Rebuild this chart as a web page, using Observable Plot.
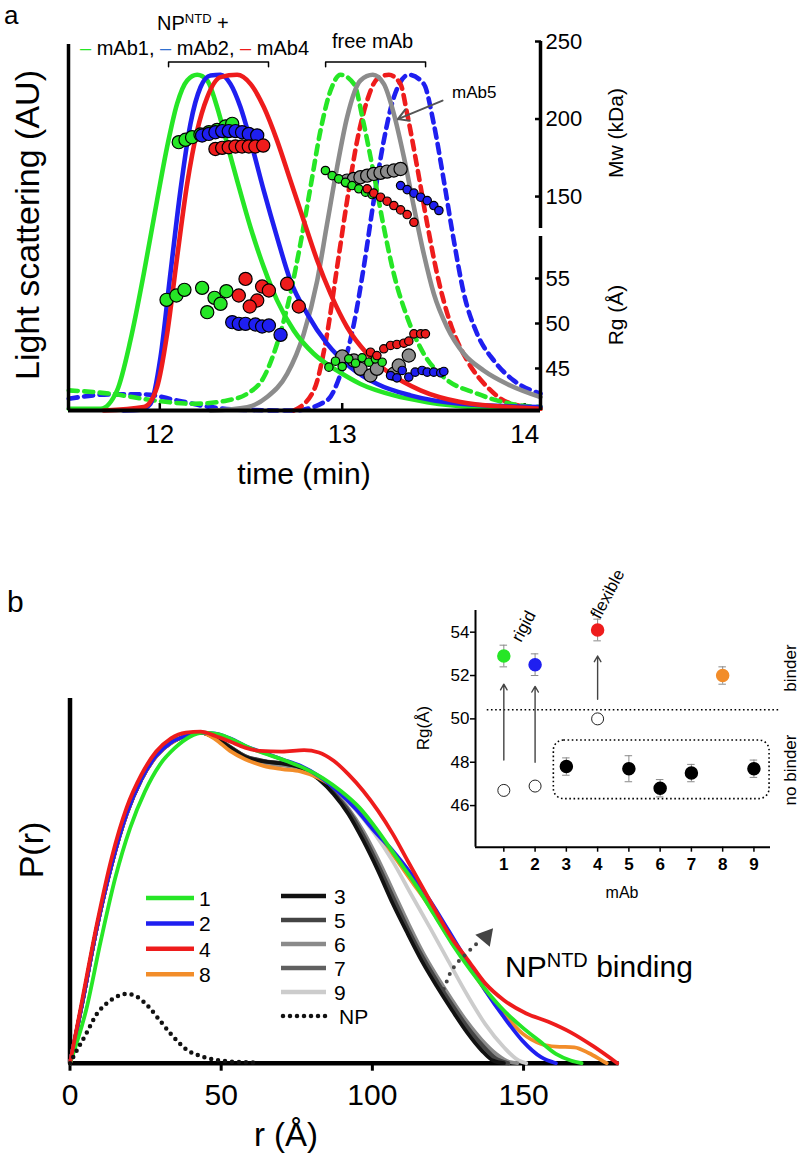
<!DOCTYPE html>
<html><head><meta charset="utf-8">
<script src="https://cdn.jsdelivr.net/npm/d3@7"></script>
<script src="https://cdn.jsdelivr.net/npm/@observablehq/plot@0.6"></script>
<style>
html,body{margin:0;padding:0;background:#fff;}
#page{position:relative;width:800px;height:1159px;overflow:hidden;background:#fff;}
#page svg{position:absolute;left:0;top:0;}
</style></head><body><div id="page"></div>
<script>
// ---------------- Panel a data: light scattering (normalised), [time (min), LS] ----------------
const timeTicks = [12, 13, 14];
const mwTicks = [150, 200, 250];
const rgTicksA = [45, 50, 55];

const lsNP1 = [[11.501,0.005],[11.675,0.005],[11.766,0.060],[11.839,0.209],[11.912,0.407],[11.985,0.626],[12.040,0.785],[12.095,0.914],[12.150,0.983],[12.205,1.0],[12.260,0.983],[12.314,0.904],[12.369,0.794],[12.424,0.685],[12.497,0.546],[12.570,0.427],[12.643,0.328],[12.735,0.238],[12.844,0.169],[12.972,0.119],[13.100,0.079],[13.283,0.045],[13.466,0.025],[13.740,0.010],[14.087,0.005]];
const lsNP2 = [[11.80,0],[11.894,0.002],[11.949,0.020],[12.004,0.159],[12.058,0.407],[12.113,0.655],[12.168,0.854],[12.223,0.963],[12.278,0.998],[12.333,1.0],[12.387,0.973],[12.442,0.904],[12.497,0.804],[12.570,0.655],[12.643,0.516],[12.716,0.387],[12.808,0.288],[12.917,0.199],[13.045,0.129],[13.192,0.079],[13.374,0.045],[13.648,0.020],[14.087,0.010]];
const lsNP4 = [[11.693,0],[11.912,0.010],[11.985,0.070],[12.040,0.228],[12.095,0.457],[12.150,0.675],[12.205,0.834],[12.260,0.933],[12.333,0.993],[12.424,1.0],[12.497,0.973],[12.570,0.904],[12.643,0.804],[12.716,0.685],[12.789,0.566],[12.863,0.447],[12.936,0.348],[13.027,0.248],[13.137,0.169],[13.265,0.109],[13.429,0.060],[13.648,0.025],[13.923,0.010],[14.087,0.005]];
const lsFree1 = [[11.501,0.060],[11.730,0.050],[11.967,0.030],[12.186,0.020],[12.369,0.030],[12.479,0.050],[12.570,0.099],[12.643,0.199],[12.716,0.348],[12.771,0.497],[12.826,0.665],[12.881,0.834],[12.936,0.953],[12.991,1.0],[13.064,0.973],[13.118,0.854],[13.173,0.705],[13.228,0.546],[13.283,0.407],[13.356,0.278],[13.447,0.169],[13.557,0.099],[13.740,0.050],[13.923,0.020],[14.087,0.010]];
const lsFree5 = [[12.278,0],[12.479,0.010],[12.588,0.040],[12.698,0.109],[12.789,0.228],[12.863,0.387],[12.917,0.556],[12.972,0.725],[13.027,0.874],[13.100,0.983],[13.168,1.0],[13.228,0.973],[13.283,0.884],[13.338,0.755],[13.393,0.606],[13.447,0.467],[13.502,0.348],[13.575,0.248],[13.667,0.169],[13.776,0.119],[13.904,0.079],[14.087,0.040]];
const lsFree4 = [[12.735,0],[12.844,0.060],[12.917,0.228],[12.972,0.427],[13.027,0.626],[13.082,0.804],[13.137,0.924],[13.192,0.988],[13.256,1.0],[13.319,0.973],[13.356,0.884],[13.411,0.725],[13.466,0.556],[13.520,0.407],[13.594,0.258],[13.685,0.149],[13.795,0.070],[13.904,0.025],[14.087,0.005]];
const lsFree2 = [[11.501,0.035],[11.730,0.048],[11.912,0.048],[12.095,0.030],[12.278,0.010],[12.461,0.002],[12.735,0],[12.917,0.030],[12.991,0.109],[13.064,0.258],[13.118,0.427],[13.173,0.626],[13.228,0.804],[13.283,0.933],[13.365,1.0],[13.447,0.973],[13.502,0.854],[13.557,0.685],[13.612,0.506],[13.667,0.348],[13.740,0.228],[13.831,0.149],[13.941,0.089],[14.087,0.050]];

// Mw (kDa) points, [time, Mw]
const mwNP1 = [[12.104,185.1],[12.141,186.6],[12.177,188.3],[12.223,190.0],[12.269,191.5],[12.314,193.0],[12.360,195.2],[12.397,196.9]];
const mwNP2 = [[12.232,189.4],[12.269,190.4],[12.305,191.5],[12.342,192.2],[12.378,192.2],[12.415,192.2],[12.451,191.5],[12.488,190.4],[12.534,189.4]];
const mwNP4 = [[12.305,180.7],[12.342,181.4],[12.378,181.8],[12.415,182.3],[12.451,182.3],[12.488,182.3],[12.524,182.3],[12.567,182.9]];
const mwFree1 = [[12.908,166.8],[12.945,163.5],[12.981,161.4],[13.018,159.2],[13.054,157.1],[13.091,155.0],[13.128,152.8],[13.164,151.3]];
const mwFree5 = [[13.027,160.3],[13.064,161.4],[13.100,162.5],[13.137,163.5],[13.173,164.6],[13.210,165.3],[13.246,166.1],[13.283,166.8],[13.320,167.8]];
const mwFree4 = [[13.137,155.0],[13.173,152.2],[13.210,149.6],[13.246,147.0],[13.283,144.2],[13.320,141.4],[13.356,138.4],[13.393,133.4]];
const mwFree2 = [[13.320,157.1],[13.356,154.5],[13.393,152.2],[13.430,149.6],[13.466,147.4],[13.502,144.2],[13.530,141.0]];

// Rg (Å) points, [time, Rg]
const rgNP1 = [[12.037,52.63],[12.091,53.11],[12.135,53.74],[12.232,53.96],[12.300,52.85],[12.365,53.59],[12.333,52.19],[12.260,51.26]];
const rgNP4 = [[12.470,54.96],[12.433,53.11],[12.534,52.56],[12.561,54.11],[12.598,53.67],[12.493,51.89],[12.698,54.41],[12.762,51.89]];
const rgNP2 = [[12.397,50.15],[12.433,49.96],[12.470,49.96],[12.524,49.89],[12.561,49.67],[12.598,49.78],[12.662,48.74]];
const rgFree1 = [[12.927,45.15],[12.963,45.81],[13.000,45.22],[13.036,46.07],[13.073,45.59],[13.109,46.19],[13.146,45.70],[13.182,46.07],[13.219,45.70]];
const rgFree5 = [[13.000,46.33],[13.064,45.89],[13.100,44.96],[13.155,44.22],[13.190,44.96],[13.283,44.41],[13.310,45.33],[13.365,46.44]];
const rgFree4 = [[13.155,46.81],[13.190,46.44],[13.228,47.19],[13.265,47.56],[13.300,47.67],[13.338,47.81],[13.365,48.04],[13.393,48.85],[13.430,48.85],[13.456,48.85]];
const rgFree2 = [[13.265,44.22],[13.300,43.96],[13.329,44.78],[13.365,44.04],[13.400,44.59],[13.438,44.78],[13.466,44.59],[13.502,44.59],[13.540,44.52],[13.557,44.67]];

// annotation geometry (data units)
const bracketNP = [[12.048,1.024],[12.048,1.038],[12.596,1.038],[12.596,1.024]];
const bracketFree = [[12.909,1.024],[12.909,1.038],[13.457,1.038],[13.457,1.024]];
const mAb5Arrow = [{x1:13.55, y1:0.923, x2:13.305, y2:0.868}];

// ---------------- Panel b data: P(r), [r (Å), P(r) normalised] ----------------
const rTicks = [0, 50, 100, 150];
const pr1 = [[0,0],[5.3,0.159],[10.2,0.37],[15.0,0.56],[19.9,0.71],[24.8,0.82],[29.7,0.90],[34.6,0.95],[39.5,0.984],[44.4,0.997],[49.3,0.992],[54.2,0.974],[59.1,0.952],[65.2,0.932],[71.3,0.912],[77.4,0.89],[83.6,0.86],[89.7,0.82],[95.8,0.77],[101.9,0.70],[108.0,0.62],[114.2,0.54],[120.3,0.45],[126.4,0.36],[132.5,0.28],[138.6,0.209],[143.5,0.159],[149.6,0.108],[155.8,0.063],[160.7,0.028],[165.6,0.008],[169.2,0]];
const pr2 = [[0,0],[4.0,0.179],[8.9,0.41],[13.8,0.60],[18.7,0.751],[23.6,0.856],[28.5,0.927],[33.4,0.967],[38.3,0.987],[43.2,0.997],[48.1,0.994],[52.9,0.98],[57.9,0.957],[64.0,0.937],[70.1,0.917],[76.2,0.897],[82.3,0.866],[88.5,0.821],[94.6,0.766],[100.7,0.70],[106.8,0.64],[112.9,0.57],[119.1,0.49],[125.2,0.40],[131.3,0.309],[137.4,0.219],[143.5,0.139],[149.6,0.068],[155.8,0.018],[160.7,0]];
const pr4 = [[0,0],[4.0,0.189],[8.9,0.42],[13.8,0.62],[18.7,0.77],[23.6,0.87],[28.5,0.94],[33.4,0.98],[38.3,0.997],[43.2,1.0],[48.1,0.987],[52.9,0.97],[57.9,0.952],[62.8,0.942],[70.1,0.94],[77.4,0.944],[82.3,0.937],[87.2,0.912],[92.1,0.871],[97.0,0.821],[101.9,0.761],[106.8,0.691],[111.7,0.61],[116.6,0.53],[121.5,0.45],[126.4,0.375],[131.3,0.315],[137.4,0.24],[143.5,0.19],[150.9,0.15],[158.2,0.125],[165.6,0.093],[172.9,0.052],[181.0,0]];
const pr8 = [[0,0],[4.0,0.18],[8.9,0.41],[13.8,0.60],[18.7,0.75],[23.6,0.855],[28.5,0.925],[33.4,0.965],[38.3,0.987],[43.2,0.997],[48.1,0.977],[52.9,0.942],[57.9,0.917],[64.0,0.897],[70.1,0.887],[76.2,0.88],[82.3,0.86],[88.5,0.826],[94.6,0.775],[100.7,0.71],[106.8,0.63],[112.9,0.55],[119.1,0.47],[125.2,0.38],[131.3,0.30],[137.4,0.219],[143.5,0.149],[149.6,0.09],[155.8,0.058],[160.7,0.05],[166.8,0.048],[171.7,0.03],[176.5,0.005],[177.5,0]];
const pr3 = [[0,0],[4.0,0.179],[8.9,0.41],[13.8,0.60],[18.7,0.751],[23.6,0.856],[28.5,0.927],[33.4,0.967],[38.3,0.987],[43.2,0.997],[48.1,0.980],[53.0,0.952],[57.9,0.924],[64.0,0.910],[70.1,0.904],[76.2,0.892],[82.3,0.856],[87.2,0.811],[92.1,0.751],[97.0,0.671],[101.9,0.580],[106.8,0.480],[111.7,0.390],[116.6,0.304],[121.5,0.229],[126.4,0.159],[131.3,0.093],[136.2,0.038],[139.9,0.008],[143.5,0]];
const pr5 = [[0,0],[4.0,0.179],[8.9,0.41],[13.8,0.60],[18.7,0.751],[23.6,0.856],[28.5,0.927],[33.4,0.967],[38.3,0.987],[43.2,0.997],[48.1,0.982],[53.0,0.954],[57.9,0.927],[64.0,0.912],[70.1,0.905],[76.2,0.893],[82.3,0.860],[87.2,0.816],[92.1,0.762],[97.0,0.688],[101.9,0.598],[106.8,0.502],[111.7,0.407],[116.6,0.321],[121.5,0.246],[126.4,0.176],[131.3,0.111],[136.2,0.056],[141.1,0.013],[144.8,0]];
const pr6 = [[0,0],[4.0,0.178],[8.9,0.41],[13.8,0.60],[18.7,0.75],[23.6,0.855],[28.5,0.926],[33.4,0.966],[38.3,0.987],[43.2,0.997],[48.1,0.981],[53.0,0.950],[57.9,0.922],[64.0,0.905],[70.1,0.898],[76.2,0.890],[82.3,0.862],[87.2,0.820],[92.1,0.768],[97.0,0.700],[101.9,0.615],[106.8,0.520],[111.7,0.425],[116.6,0.336],[121.5,0.260],[126.4,0.190],[131.3,0.125],[136.2,0.070],[141.1,0.027],[145.5,0.003],[148.0,0]];
const pr7 = [[0,0],[4.0,0.179],[8.9,0.41],[13.8,0.60],[18.7,0.751],[23.6,0.856],[28.5,0.927],[33.4,0.967],[38.3,0.987],[43.2,0.997],[48.1,0.981],[53.0,0.953],[57.9,0.926],[64.0,0.911],[70.1,0.904],[76.2,0.892],[82.3,0.858],[87.2,0.814],[92.1,0.758],[97.0,0.680],[101.9,0.590],[106.8,0.495],[111.7,0.400],[116.6,0.316],[121.5,0.240],[126.4,0.170],[131.3,0.106],[136.2,0.050],[141.1,0.012],[145.0,0]];
const pr9 = [[0,0],[4.0,0.178],[8.9,0.41],[13.8,0.60],[18.7,0.75],[23.6,0.855],[28.5,0.926],[33.4,0.966],[38.3,0.987],[43.2,0.997],[48.1,0.982],[53.0,0.953],[57.9,0.925],[64.0,0.908],[70.1,0.900],[76.2,0.890],[82.3,0.860],[88.5,0.818],[94.6,0.763],[100.7,0.693],[106.8,0.608],[112.9,0.508],[119.1,0.408],[125.2,0.307],[131.3,0.207],[137.4,0.117],[143.5,0.048],[148.4,0.008],[150.9,0]];
const prNP = [[0,0],[1.6,0.028],[5.3,0.088],[8.9,0.149],[12.6,0.184],[16.3,0.204],[18.7,0.209],[22.4,0.199],[26.1,0.169],[29.7,0.129],[33.4,0.088],[38.3,0.043],[44.4,0.018],[51.8,0.006],[61.5,0.002]];
const bindingArrow = [[123.6,0.224],[126.0,0.278],[128.4,0.306],[131.0,0.33],[134.7,0.362]];
const bindingHead = [[137.6,0.382]];

// ---------------- Inset data ----------------
const mAbs     = [1, 2, 3, 4, 5, 6, 7, 8, 9];
const rgBound  = [52.9, 52.5, 47.8, 54.1, 47.7, 46.8, 47.5, 52.0, 47.7];
const rgErr    = [0.5, 0.5, 0.4, 0.5, 0.6, 0.4, 0.4, 0.4, 0.4];
const openMabs = [1, 2, 4];
const rgOpen   = [46.7, 46.9, 50.0];
const arrowMabs = [1, 2, 4];
const arrowFrom = [48.1, 48.0, 50.9];
const arrowTo   = [51.6, 51.5, 52.9];
const binderThreshold = 50.42;
const insetYTicks = [46, 48, 50, 52, 54];
const noBinderBox = {x1: 2.6, x2: 9.5, y1: 46.3, y2: 49.0};

// ---------------- Styling ----------------
const FONT = "'Liberation Sans', Arial, Helvetica, sans-serif";
const C = {green: "#26e626", blue: "#1f1ff0", red: "#ee1c1c", gray: "#8c8c8c", orange: "#f28d2a"};
const G = {c3: "#111111", c5: "#444444", c6: "#8a8a8a", c7: "#606060", c9: "#cccccc"};
const mabColor = {1: C.green, 2: C.blue, 4: C.red, 8: C.orange};
const st = (fs) => ({background: "transparent", fontFamily: FONT, fontSize: fs + "px", color: "#000", overflow: "visible"});
const page = document.getElementById("page");
const W = 800, H = 1159;

const tDomain = [11.4995, 14.087];
const X = d => d[0], Y = d => d[1];
const ls = (data, color, dashed) => Plot.line(data, {x: X, y: Y, stroke: color, strokeWidth: 4.6, strokeDasharray: dashed ? "9,6.5" : "none", curve: "monotone-x"});
const dots = (data, color, r) => Plot.dot(data, {x: X, y: Y, r, fill: color, stroke: "#000", strokeWidth: 1.2});

// Panel a: light scattering
const plotLS = Plot.plot({
  width: W, height: H, marginLeft: 68, marginRight: 260, marginTop: 44, marginBottom: 749,
  x: {domain: tDomain}, y: {domain: [0, 1.0903], axis: null},
  style: st(26),
  marks: [
    Plot.axisX({ticks: timeTicks, tickSize: -7, tickPadding: 21, tickFormat: d => String(d), label: null, strokeWidth: 2.5, fontSize: 26}),
    ls(lsFree2, C.blue, true), ls(lsFree4, C.red, true), ls(lsFree1, C.green, true), ls(lsFree5, C.gray, false),
    ls(lsNP1, C.green, false), ls(lsNP2, C.blue, false), ls(lsNP4, C.red, false),
    Plot.ruleY([0], {strokeWidth: 4}),
    Plot.ruleX([tDomain[0]], {strokeWidth: 3.5}),
    Plot.line(bracketNP, {x: X, y: Y, stroke: "#000", strokeWidth: 1.5}),
    Plot.line(bracketFree, {x: X, y: Y, stroke: "#000", strokeWidth: 1.5}),
    Plot.arrow(mAb5Arrow, {x1: "x1", y1: "y1", x2: "x2", y2: "y2", stroke: "#555", strokeWidth: 2, headLength: 9})
  ]
});
const plotMw = Plot.plot({
  width: W, height: H, marginLeft: 68, marginRight: 260, marginTop: 41, marginBottom: 931,
  x: {domain: tDomain, axis: null}, y: {domain: [129.4, 250]},
  style: st(22),
  marks: [
    Plot.ruleX([tDomain[1]], {strokeWidth: 3.5}),
    Plot.axisY({anchor: "right", ticks: mwTicks, tickSize: -6, tickPadding: 11, tickFormat: d => String(d), label: null, strokeWidth: 2.5, fontSize: 22}),
    dots(mwNP1, C.green, 6.6), dots(mwNP2, C.blue, 6.6), dots(mwNP4, C.red, 6.6),
    dots(mwFree5, C.gray, 6.6), dots(mwFree1, C.green, 4.2), dots(mwFree4, C.red, 4.2), dots(mwFree2, C.blue, 4.2)
  ]
});
const plotRg = Plot.plot({
  width: W, height: H, marginLeft: 68, marginRight: 260, marginTop: 236, marginBottom: 749,
  x: {domain: tDomain, axis: null}, y: {domain: [40.33, 59.67]},
  style: st(22),
  marks: [
    Plot.ruleX([tDomain[1]], {strokeWidth: 3.5}),
    Plot.axisY({anchor: "right", ticks: rgTicksA, tickSize: -6, tickPadding: 11, tickFormat: d => String(d), label: null, strokeWidth: 2.5, fontSize: 22}),
    dots(rgNP1, C.green, 6.6), dots(rgNP4, C.red, 6.6), dots(rgNP2, C.blue, 6.6),
    dots(rgFree5, C.gray, 6.6), dots(rgFree1, C.green, 4.2), dots(rgFree4, C.red, 4.2), dots(rgFree2, C.blue, 4.2)
  ]
});

// Panel b: P(r)
const pl = (data, color) => Plot.line(data, {x: X, y: Y, stroke: color, strokeWidth: 3.8, curve: "monotone-x"});
const plotPr = Plot.plot({
  width: W, height: H, marginLeft: 69.5, marginRight: 181.4, marginTop: 698, marginBottom: 96.3,
  x: {domain: [0, 181.6]}, y: {domain: [0, 1.1], axis: null},
  style: st(30),
  marks: [
    Plot.ruleY([0], {strokeWidth: 4.5}),
    Plot.ruleX([0], {strokeWidth: 4.5}),
    Plot.axisX({ticks: rTicks, tickSize: 8, tickPadding: 12, tickFormat: d => String(d), label: null, strokeWidth: 3, fontSize: 30}),
    pl(pr9, G.c9), pl(pr6, G.c6), pl(pr7, G.c7), pl(pr5, G.c5), pl(pr3, G.c3),
    pl(pr8, C.orange), pl(pr2, C.blue), pl(pr1, C.green), pl(pr4, C.red),
    Plot.line(prNP, {x: X, y: Y, stroke: "#111", strokeWidth: 4.5, strokeDasharray: "0,7", strokeLinecap: "round", curve: "monotone-x"}),
    Plot.line(bindingArrow, {x: X, y: Y, stroke: "#444", strokeWidth: 4, strokeDasharray: "0,8", strokeLinecap: "round"}),
    Plot.dot(bindingHead, {x: X, y: Y, symbol: "triangle", r: 7, fill: "#444", rotate: 40})
  ]
});

// Inset
const boundData = mAbs.map((m, i) => ({mab: m, rg: rgBound[i], err: rgErr[i], color: mabColor[m] || "#000"}));
const openData = openMabs.map((m, i) => ({mab: m, rg: rgOpen[i]}));
const arrowData = arrowMabs.map((m, i) => ({mab: m, from: arrowFrom[i], to: arrowTo[i]}));
const plotInset = Plot.plot({
  width: W, height: H, marginLeft: 475, marginRight: 30, marginTop: 610, marginBottom: 312.3,
  x: {domain: [0.094, 9.53]}, y: {domain: [44.08, 55.0]}, color: {type: "identity"},
  style: st(17),
  marks: [
    Plot.ruleY([{y: binderThreshold, a: 0.47, b: 9.85}], {y: "y", x1: "a", x2: "b", strokeWidth: 1.6, strokeDasharray: "1.6,2.6"}),
    Plot.rect([noBinderBox], {x1: "x1", x2: "x2", y1: "y1", y2: "y2", rx: 10, fill: "none", stroke: "#000", strokeWidth: 1.6, strokeDasharray: "1.6,2.6"}),
    Plot.arrow(arrowData, {x1: "mab", x2: "mab", y1: "from", y2: "to", stroke: "#444", strokeWidth: 1.4, headLength: 7}),
    Plot.ruleX(boundData, {x: "mab", y1: d => d.rg - d.err, y2: d => d.rg + d.err, stroke: "#8a8a8a", strokeWidth: 1}),
    Plot.ruleY(boundData, {y: d => d.rg + d.err, x1: d => d.mab - 0.12, x2: d => d.mab + 0.12, stroke: "#8a8a8a", strokeWidth: 1}),
    Plot.ruleY(boundData, {y: d => d.rg - d.err, x1: d => d.mab - 0.12, x2: d => d.mab + 0.12, stroke: "#8a8a8a", strokeWidth: 1}),
    Plot.dot(openData, {x: "mab", y: "rg", r: 6, fill: "white", stroke: "#222", strokeWidth: 1}),
    Plot.dot(boundData, {x: "mab", y: "rg", r: 6, fill: "color", stroke: "color"}),
    Plot.ruleX([0.094], {strokeWidth: 2}),
    Plot.ruleY([44.08], {strokeWidth: 2}),
    Plot.axisX({ticks: mAbs, tickSize: 5, tickPadding: 6, tickFormat: d => String(d), label: null, fontWeight: "bold", fontSize: 17, strokeWidth: 1.5}),
    Plot.axisY({ticks: insetYTicks, tickSize: 5, tickPadding: 1, tickFormat: d => String(d), label: null, fontSize: 17, strokeWidth: 1.5})
  ]
});

[plotLS, plotMw, plotRg, plotPr, plotInset].forEach(p => page.appendChild(p));

// ---------------- Text annotations and legend ----------------
const ann = d3.create("svg").attr("width", W).attr("height", H).attr("font-family", FONT);
function T(x, y, s, size, o = {}) {
  const t = ann.append("text").attr("font-size", size).attr("text-anchor", o.anchor || "start").attr("fill", o.fill || "#000");
  if (o.rot != null) t.attr("transform", `translate(${x},${y}) rotate(${o.rot})`); else t.attr("x", x).attr("y", y);
  if (o.weight) t.attr("font-weight", o.weight);
  if (typeof s === "string") t.text(s);
  else s.forEach(p => { const ts = t.append("tspan").text(p.t); if (p.size) ts.attr("font-size", p.size); if (p.dy) ts.attr("dy", p.dy); if (p.fill) ts.attr("fill", p.fill); });
  return t;
}
// panel a
T(4, 24, "a", 26);
T(157, 30, [{t: "NP"}, {t: "NTD", size: 13, dy: -7}, {t: " +", dy: 7}], 20);
T(80, 55, [{t: "–", fill: C.green}, {t: " mAb1, "}, {t: "–", fill: "#3070d0"}, {t: " mAb2, "}, {t: "–", fill: C.red}, {t: " mAb4"}], 20);
T(332, 48, "free mAb", 20);
T(452, 98, "mAb5", 17);
T(39, 225, "Light scattering (AU)", 34, {rot: -90, anchor: "middle"});
T(304, 484, "time (min)", 30, {anchor: "middle"});
T(623, 133, "Mw (kDa)", 21, {rot: -90, anchor: "middle"});
T(623, 315, "Rg (Å)", 21, {rot: -90, anchor: "middle"});
// panel b
T(7, 612, "b", 30);
T(43, 850, "P(r)", 34, {rot: -90, anchor: "middle"});
T(286, 1146, "r (Å)", 33, {anchor: "middle"});
T(505, 977, [{t: "NP"}, {t: "NTD", size: 20, dy: -10}, {t: " binding", dy: 10}], 30);
// inset texts
T(429, 728, "Rg(Å)", 17, {rot: -90, anchor: "middle"});
T(622, 898, "mAb", 16, {anchor: "middle"});
T(521, 643, "rigid", 17, {rot: -62});
T(600, 620, "flexible", 17, {rot: -62});
T(796, 668, "binder", 17, {rot: -90, anchor: "middle"});
T(796, 770, "no binder", 17, {rot: -90, anchor: "middle"});
// legend (panel b)
const leg1 = [["1", C.green], ["2", C.blue], ["4", C.red], ["8", C.orange]];
const leg2 = [["3", G.c3], ["5", G.c5], ["6", G.c6], ["7", G.c7], ["9", G.c9], ["NP", "#111"]];
leg1.forEach(([lab, col], i) => {
  const y = 898 + i * 25.4;
  ann.append("line").attr("x1", 146).attr("x2", 194).attr("y1", y).attr("y2", y).attr("stroke", col).attr("stroke-width", 4.5);
  T(199, y + 8, lab, 21);
});
leg2.forEach(([lab, col], i) => {
  const y = 896 + i * 24;
  const ln = ann.append("line").attr("x1", 281).attr("x2", 326).attr("y1", y).attr("y2", y).attr("stroke", col).attr("stroke-width", 4.5);
  if (lab === "NP") ln.attr("stroke-dasharray", "0,7").attr("stroke-linecap", "round").attr("x1", 283);
  T(lab === "NP" ? 339 : 334, y + 8, lab, 21);
});
page.appendChild(ann.node());
</script></body></html>
